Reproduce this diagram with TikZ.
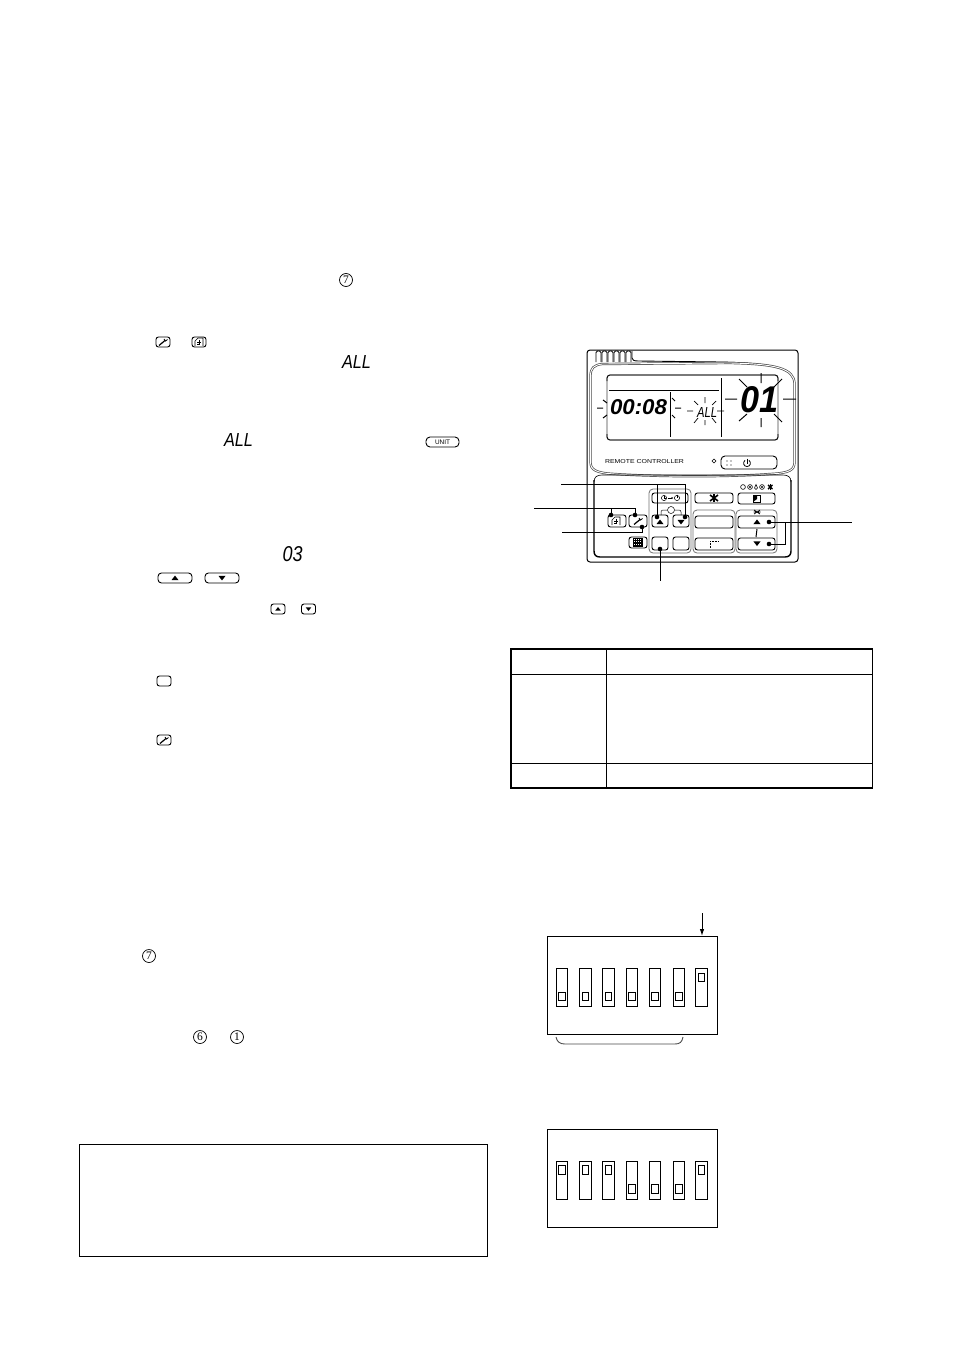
\documentclass[tikz,border=0pt]{standalone}
\usepackage{graphicx}
\usepackage{fontspec}
\setmainfont{Liberation Sans}
\newfontfamily\numfont{Liberation Serif}
\usetikzlibrary{arrows.meta}
\newcommand{\fitbox}[3]{\resizebox{#1pt}{#2pt}{#3}}
\newcommand{\uptri}[3]{\fill (#1-#3,#2+#3*0.6) -- (#1+#3,#2+#3*0.6) -- (#1,#2-#3*0.7) -- cycle;}
\newcommand{\dntri}[3]{\fill (#1-#3,#2-#3*0.6) -- (#1+#3,#2-#3*0.6) -- (#1,#2+#3*0.7) -- cycle;}
\newcommand{\wrenchmark}[2]{\draw[line width=1.2pt] (#1-4,#2+3.5) -- (#1+2,#2-1.5); \draw[line width=.8pt] (#1+1,#2-3) -- (#1+2.5,#2-1) -- (#1+4.5,#2-2.5);}
\newcommand{\housemark}[2]{\draw[line width=.6pt] (#1-4,#2+4) -- (#1-4,#2-1) -- (#1-1,#2-4) -- (#1+4,#2-4) -- (#1+4,#2+4); \draw[line width=.6pt] (#1-2,#2) -- (#1+2,#2) (#1,#2-2.5) -- (#1,#2+3) (#1-2,#2+2) -- (#1+1,#2+2);}
\tikzset{
  ln/.style={line width=1pt,draw=black},
  leader/.style={line width=1pt,draw=black},
  btn/.style={draw=black,line width=.9pt,rectangle,rounded corners=2.5pt,inner sep=0pt},
  grp/.style={draw=black!55,line width=.8pt,rounded corners=4pt},
  dotn/.style={circle,fill=black,inner sep=0pt,minimum size=4.6pt},
  circnum/.style={circle,draw=black,line width=.7pt,inner sep=0pt,minimum size=13pt,font=\numfont\fontsize{11.5}{11.5}\selectfont},
  sw/.style={draw=black,line width=1pt,rectangle,inner sep=0pt,minimum width=11.5pt,minimum height=38pt},
  swk/.style={draw=black,line width=.9pt,rectangle,inner sep=0pt,minimum width=6.5pt,minimum height=8.5pt},
  seg/.style={inner sep=0pt,outer sep=0pt},
  frame/.style={draw=black,line width=1pt},
}
\begin{document}
\begin{tikzpicture}[x=1pt,y=-1pt]
\useasboundingbox (0,0) rectangle (954,1348);
\fill[white] (0,0) rectangle (954,1348);

%% --- inline symbols, left column ---
\node[circnum] (sevenA) at (346,280) {7};
\node[btn,minimum width=14pt,minimum height=10pt] (wrenchA) at (163,342) {};
\wrenchmark{163}{342}
\node[btn,minimum width=14pt,minimum height=10pt] (houseA) at (199,342) {};
\housemark{199}{342}
\node[seg] (allA) at (356.5,361.5) {\fitbox{29}{13}{\itshape ALL}};
\node[seg] (allB) at (238.5,440) {\fitbox{29}{13}{\itshape ALL}};
\node[btn,rounded corners=4pt,minimum width=33pt,minimum height=10pt] (unitA) at (442.5,442) {\fitbox{15}{4.5}{UNIT}};
\node[seg] (zerothree) at (292.5,554.5) {\fitbox{20}{15}{\itshape 03}};
\node[btn,rounded corners=3.5pt,minimum width=34pt,minimum height=10pt] (upW) at (175,578) {};
\uptri{175}{578}{3.5}
\node[btn,rounded corners=3.5pt,minimum width=34pt,minimum height=10pt] (dnW) at (222,578) {};
\dntri{222}{578}{3.5}
\node[btn,minimum width=14pt,minimum height=10pt] (upS) at (278,609) {};
\uptri{278}{609}{2.8}
\node[btn,minimum width=14pt,minimum height=10pt] (dnS) at (308.5,609) {};
\dntri{308.5}{609}{2.8}
\node[btn,minimum width=14pt,minimum height=10pt] (plainA) at (164,681) {};
\node[btn,minimum width=14pt,minimum height=10pt] (wrenchB) at (164,740) {};
\wrenchmark{164}{740}
\node[circnum] (sevenB) at (149,956) {7};
\node[circnum] (sixA) at (200,1037) {6};
\node[circnum] (oneA) at (237,1037) {1};

%% note box
\draw[frame] (79.5,1144.5) rectangle (487.5,1256);

%% --- controller ---
\draw[line width=1pt,rounded corners=3pt] (587,350) rectangle (798,562);
\foreach \tx in {596,602,608,614,620,626}
  \draw[line width=.9pt,rounded corners=1.5pt] (\tx,362) -- (\tx,351) -- (\tx+5,351) -- (\tx+5,362);
\draw[line width=.9pt] (632,351) -- (632,358) .. controls (632,360) and (634,361) .. (638,361)
   -- (720,362) .. controls (770,363) and (787,368) .. (792,376);
% bezel
\draw[draw=black!70,double=white,double distance=.9pt,line width=.7pt]
   (590.5,376) .. controls (590.5,368) and (594,365) .. (602,364)
   -- (730,363) .. controls (775,364) and (794.5,368) .. (794.5,384)
   -- (794.5,462) .. controls (794.5,470) and (790,473) .. (770,474)
   .. controls (730,477) and (660,477) .. (615,474)
   .. controls (596,473) and (590.5,470) .. (590.5,462) -- cycle;
% LCD
\draw[draw=black!40,line width=1.2pt,rounded corners=3pt] (607,375) rectangle (778,440);
\draw[line width=.8pt,rounded corners=3pt] (607,381) -- (607,375) -- (778,375) -- (778,381);
\draw[line width=.8pt,rounded corners=3pt] (607,434) -- (607,440) -- (778,440) -- (778,434);
\draw[ln] (609,390) -- (719,390);
\draw[ln] (670,392) -- (670,437);
\draw[ln] (721,378) -- (721,437);
\node[seg] (time) at (638.5,407.5) {\fitbox{57}{15}{\itshape\bfseries 00:08}};
\node[seg] (allC) at (707,412) {\fitbox{20}{10}{\itshape ALL}};
\node[seg] (num) at (759,400) {\fitbox{38}{26}{\itshape\bfseries 01}};
% rays
\draw[ln] (597,408)--(603,408) (603,400)--(607,403) (603,418)--(607,415)
  (672,398)--(675,401) (672,415)--(675,418) (675,408)--(681,408);
\draw[line width=.7pt] (687,411)--(693,411) (705,397)--(705,403) (705,420)--(705,425)
  (694,401)--(698,405) (716,401)--(712,405) (694,423)--(698,418) (716,423)--(712,418) (717,411)--(724,411);
\draw[ln] (725,399)--(737,399) (783,399)--(796,399) (761,373)--(761,383) (761,418)--(761,427)
  (739,379)--(747,387) (782,379)--(774,387) (739,421)--(747,414) (782,422)--(774,414);
% strip below LCD
\node[seg] (rc) at (644.5,462) {\fitbox{79}{4}{REMOTE CONTROLLER}};
\draw[line width=.6pt] (714,459) -- (716,461) -- (714,463) -- (712,461) -- cycle;
\node[btn,rounded corners=4pt,minimum width=56pt,minimum height=13pt] (onoff) at (749,462.5) {};
\fill (727,461) circle (.7) (731,461) circle (.7) (727,465) circle (.7) (731,465) circle (.7);
\draw[line width=.8pt] (745,460.3) .. controls (742.5,462.5) and (743.5,466.5) .. (747,466.5) .. controls (750.5,466.5) and (751.5,462.5) .. (749,460.3);
\draw[line width=.8pt] (747,458.5) -- (747,463.5);
% lower panel
\draw[line width=.6pt] (594,482) .. controls (594,477) and (597,475) .. (602,475) -- (783,475) .. controls (788,475) and (791,477) .. (791,482);
\draw[line width=1.4pt] (594,480) -- (594,551) .. controls (594,555) and (596,557) .. (600,557) -- (785,557) .. controls (789,557) and (791,555) .. (791,551) -- (791,480);
% button groups
\draw[grp] (649,489) rectangle (691,553);
\draw[grp] (693,510) rectangle (735,553);
\draw[grp] (736,510) rectangle (777,553);
\node[btn,minimum width=36pt,minimum height=10pt] (timerB) at (670,498) {};
\draw[line width=.5pt] (664,498) circle (2.6) (677,498) circle (2.6);
\draw[line width=.5pt] (664,495.5) -- (664,498) -- (666,498) (677,494.5) -- (677,498);
\draw[line width=.5pt,-{Latex[length=2pt,width=2pt]}] (667.5,498) -- (673.5,498);
\draw[line width=.5pt] (671,510) circle (3.5);
\draw[line width=.5pt,rounded corners=2pt] (661,515) -- (661,510) -- (667,510) (675,510) -- (681,510) -- (681,515);
\node[btn,minimum width=16pt,minimum height=12pt] (upB) at (660,521) {};
\uptri{660}{522}{3.5}
\node[btn,minimum width=16pt,minimum height=12pt] (dnB) at (681,521) {};
\dntri{681}{522}{3.5}
\node[btn,minimum width=16pt,minimum height=13pt] (codeB) at (660,543.5) {};
\node[btn,minimum width=16pt,minimum height=13pt] (blankB) at (681,543.5) {};
\node[btn,minimum width=38pt,minimum height=10pt] (fanB) at (714,498) {};
\draw[line width=1.6pt] (710,495) -- (718,501) (710,501) -- (718,495);
\draw[line width=1.2pt] (714,494) -- (714,502);
\node[btn,minimum width=37pt,minimum height=11pt] (modeB) at (756.5,498.5) {};
\draw[line width=.7pt] (753,495) rectangle (760,502);
\fill (753,495) -- (757,495) -- (757,499) -- (753,502) -- cycle;
\draw[line width=.6pt] (743,487) circle (2.4);
\draw[line width=.6pt] (750,487) circle (2.4);
\fill (750,487) circle (1.1);
\draw[line width=.6pt] (756,484.5) -- (754.5,488) .. controls (754.5,490) and (757.5,490) .. (757.5,488) -- cycle;
\draw[line width=.6pt] (762,487) circle (2.4);
\fill (762,487) circle (1.2);
\draw[line width=1.4pt] (768,485) -- (772.5,489) (768,489) -- (772.5,485);
\draw[line width=1pt] (770.2,484) -- (770.2,490);
\node[btn,minimum width=38pt,minimum height=12pt] (midT) at (714,522) {};
\node[btn,minimum width=38pt,minimum height=12pt] (midB) at (714,544) {};
\draw[line width=.5pt,densely dotted] (710,541) -- (710,548) (710,541) -- (718,541);
\node[btn,minimum width=37pt,minimum height=12pt] (tmpU) at (756.5,522) {};
\uptri{757}{522}{3.6}
\node[btn,minimum width=37pt,minimum height=12pt] (tmpD) at (756.5,544) {};
\dntri{757}{543.5}{3.6}
\draw[line width=1pt] (757,529) -- (756,537);
\draw[line width=.7pt] (754,510) -- (760,514) (754,514) -- (760,510) (753.5,512) -- (760.5,512);
\node[btn,minimum width=18pt,minimum height=12pt] (houseB) at (617,521) {};
\housemark{616}{521}
\node[btn,minimum width=18pt,minimum height=12pt] (wrenchC) at (638,521) {};
\wrenchmark{638}{521}
\node[btn,minimum width=18pt,minimum height=11pt] (gridB) at (638,542.5) {};
\draw[line width=.5pt] (633.5,538.5) grid[step=1.8pt] (642.5,546.5);
\draw[line width=.7pt] (633.5,538.5) rectangle (642.5,546.5);

% leaders
\node[dotn] (dUp) at (657,517) {};
\node[dotn] (dDn) at (685,517) {};
\node[dotn] (dHouse) at (611,515) {};
\node[dotn] (dWrA) at (635,515) {};
\node[dotn] (dWrB) at (642,527) {};
\node[dotn] (dCode) at (660,549) {};
\node[dotn] (dTU) at (769,522) {};
\node[dotn] (dTD) at (769,544) {};
\coordinate (lA) at (561,484);
\coordinate (lB) at (534,508);
\coordinate (lC) at (562,532);
\coordinate (lD) at (660,581);
\coordinate (lE) at (852,522);
\coordinate (jE) at (785,522);
\draw[leader] (dUp.center) |- (lA);
\draw[leader] (dDn.center) |- (lA);
\draw[leader] (dHouse.center) |- (lB);
\draw[leader] (dWrA.center) |- (lB);
\draw[leader] (dWrB.center) |- (lC);
\draw[leader] (dCode.center) -- (lD);
\draw[leader] (dTU.center) -- (lE);
\draw[leader] (dTD.center) -| (jE);

%% --- table ---
\draw[line width=1.6pt] (511,649) rectangle (872.5,788);
\draw[ln] (511,674) -- (872.5,674);
\draw[ln] (511,763) -- (872.5,763);
\draw[ln] (606,649) -- (606,788);

%% --- DIP switch 1 ---
\node[draw=black,line width=1pt,rectangle,inner sep=0pt,minimum width=170pt,minimum height=98pt] (dipA) at (632,985) {};
\coordinate (arrowTop) at (702,913);
\draw[line width=1pt,-{Latex[length=7pt,width=4.5pt]}] (arrowTop) -- (702,936);
\foreach \n/\sx in {1/562,2/585.5,3/608.5,4/632,5/655,6/679}{
  \node[sw] (a\n) at (\sx,987.5) {};
  \node[swk] (ak\n) at (\sx,996.5) {};
}
\node[sw] (a7) at (701.5,987.5) {};
\node[swk] (ak7) at (701.5,977.5) {};
\draw[line width=.9pt,draw=black!70] (556,1037) .. controls (557,1042) and (560,1044) .. (565,1044) -- (675,1044) .. controls (680,1044) and (682,1042) .. (683,1037);

%% --- DIP switch 2 ---
\node[draw=black,line width=1pt,rectangle,inner sep=0pt,minimum width=170pt,minimum height=98pt] (dipB) at (632,1178) {};
\foreach \n/\sx/\sy in {1/562/1170,2/585.5/1170,3/608.5/1170,4/632/1189,5/655/1189,6/679/1189,7/701.5/1170}{
  \node[sw] (b\n) at (\sx,1180) {};
  \node[swk] (bk\n) at (\sx,\sy) {};
}
\end{tikzpicture}
\end{document}
